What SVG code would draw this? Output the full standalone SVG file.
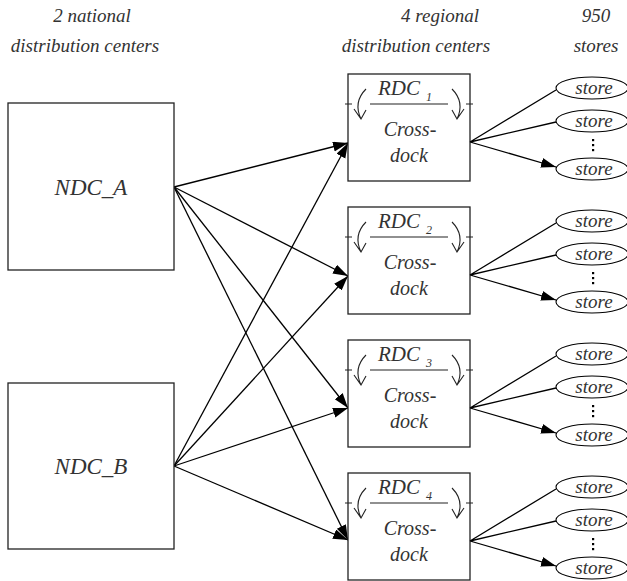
<svg xmlns="http://www.w3.org/2000/svg" width="627" height="581" viewBox="0 0 627 581" font-family="Liberation Serif, DejaVu Serif, serif">
<style>
.t{font-style:italic;fill:#333;text-anchor:middle}
.hd{font-size:19px}
.box{fill:#fff;stroke:#222;stroke-width:1.3}
.e{fill:none;stroke:#000;stroke-width:1.3}
.thin{fill:none;stroke:#222;stroke-width:1.1}
.st{fill:#fff;stroke:#000;stroke-width:1.1}
.sl{font-size:19px}
.dots{fill:#000}
</style>
<defs>
<marker id="ah" markerUnits="userSpaceOnUse" markerWidth="16" markerHeight="12" refX="15" refY="5" orient="auto">
<path d="M0,0 L15,5 L0,10 Z" fill="#000"/>
</marker>
<g id="rdcbody">
<path class="thin" d="M370,30 H448 M345,30 H352 M466,30 H473"/>
<path class="thin" d="M366,15 Q353,28 361,45 M354,35 L361,45 L366,36"/>
<path class="thin" d="M452,15 Q465,28 457,45 M464,35 L457,45 L452,36"/>
<text class="t" x="410" y="62" font-size="20">Cross-</text>
<text class="t" x="409" y="88" font-size="20">dock</text>
</g>
<g id="stores">
<ellipse class="st" cx="592" cy="14" rx="36" ry="11"/>
<ellipse class="st" cx="592" cy="47" rx="36" ry="11"/>
<ellipse class="st" cx="592" cy="95" rx="36" ry="11"/>
<text class="t sl" x="594" y="20">store</text>
<text class="t sl" x="594" y="53">store</text>
<text class="t sl" x="594" y="101">store</text>
<rect class="dots" x="592" y="65" width="2.2" height="2.2"/>
<rect class="dots" x="592" y="70" width="2.2" height="2.2"/>
<rect class="dots" x="592" y="75" width="2.2" height="2.2"/>
<path class="e" d="M470,68 L556,16 M470,68 L556,48 M470,68 L556,93" marker-end="url(#ah)"/>
</g>
</defs>

<g id="headers">
<text class="t hd" x="92" y="22">2 national</text>
<text class="t hd" x="85" y="52">distribution centers</text>
<text class="t hd" x="440" y="22">4 regional</text>
<text class="t hd" x="416" y="52">distribution centers</text>
<text class="t hd" x="596" y="22">950</text>
<text class="t hd" x="596" y="52">stores</text>
</g>

<g id="connectors">
<path class="e" d="M174,187 L348,143" marker-end="url(#ah)"/>
<path class="e" d="M174,187 L348,276" marker-end="url(#ah)"/>
<path class="e" d="M174,187 L348,408" marker-end="url(#ah)"/>
<path class="e" d="M174,187 L348,540" marker-end="url(#ah)"/>
<path class="e" d="M174,466 L348,143" marker-end="url(#ah)"/>
<path class="e" d="M174,466 L348,276" marker-end="url(#ah)"/>
<path class="e" d="M174,466 L348,408" marker-end="url(#ah)"/>
<path class="e" d="M174,466 L348,540" marker-end="url(#ah)"/>
</g>

<g id="NDC_A">
<rect class="box" x="8" y="103" width="166" height="167"/>
<text class="t" x="91" y="195" font-size="23">NDC_A</text>
</g>
<g id="NDC_B">
<rect class="box" x="8" y="383" width="166" height="166"/>
<text class="t" x="91" y="474" font-size="23">NDC_B</text>
</g>

<g id="RDC_1" transform="translate(0,74)">
<rect class="box" x="348" y="0" width="122" height="107"/>
<use href="#rdcbody"/>
<text class="t" x="405" y="21" font-size="21">RDC<tspan dx="6" dy="6" font-size="12">1</tspan></text>
<use href="#stores"/>
</g>
<g id="RDC_2" transform="translate(0,207)">
<rect class="box" x="348" y="0" width="122" height="107"/>
<use href="#rdcbody"/>
<text class="t" x="405" y="21" font-size="21">RDC<tspan dx="6" dy="6" font-size="12">2</tspan></text>
<use href="#stores"/>
</g>
<g id="RDC_3" transform="translate(0,340)">
<rect class="box" x="348" y="0" width="122" height="107"/>
<use href="#rdcbody"/>
<text class="t" x="405" y="21" font-size="21">RDC<tspan dx="6" dy="6" font-size="12">3</tspan></text>
<use href="#stores"/>
</g>
<g id="RDC_4" transform="translate(0,473)">
<rect class="box" x="348" y="0" width="122" height="107"/>
<use href="#rdcbody"/>
<text class="t" x="405" y="21" font-size="21">RDC<tspan dx="6" dy="6" font-size="12">4</tspan></text>
<use href="#stores"/>
</g>
</svg>
